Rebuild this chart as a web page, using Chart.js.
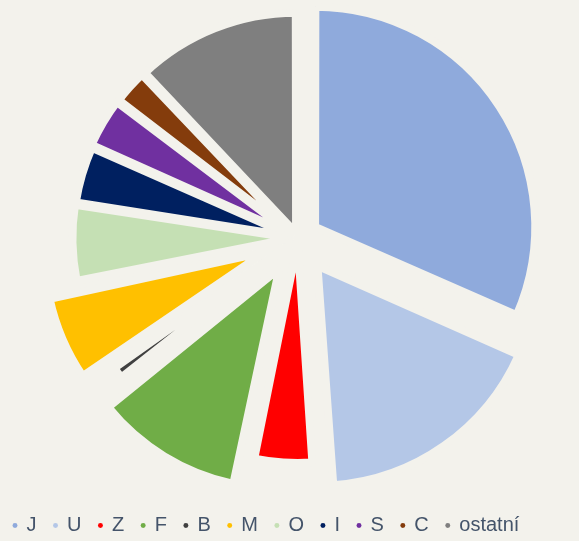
<!DOCTYPE html>
<html>
<head>
<meta charset="utf-8">
<script src="https://cdn.jsdelivr.net/npm/chart.js@4"></script>
<style>
  html, body { margin: 0; overflow: hidden; background: #f3f2ec; width: 579px; height: 541px; }
  canvas { position: absolute; left: -4px; top: -22px; }
</style>
</head>
<body>
<canvas id="pie" width="604" height="568"></canvas>
<script>
let labels = ['J', 'U', 'Z', 'F', 'B', 'M', 'O', 'I', 'S', 'C', 'ostatní'];
let shares = [31.6, 17.3, 4.3, 11.1, 0.95, 6.6, 5.6, 4.2, 3.7, 2.6, 12.05];
let colors = ['#8faadc', '#b4c7e7', '#ff0000', '#70ad47', '#404040', '#ffc000',
              '#c5e0b4', '#002060', '#7030a0', '#843c0c', '#7f7f7f'];
// how far each slice is pulled out
let explode = [82, 136, 20, 144, 20, 145, 22, 20, 26, 24, 22];

let bg = '#f3f2ec';
let textColor = '#44546a';
let pieRadius = 220;

Chart.defaults.font.family = '"Liberation Sans", Arial, sans-serif';

// chart.js grows the radius of small exploded slices; keep every slice the same size
let sameRadius = {
    id: 'sameRadius',
    afterDatasetsUpdate: function(chart) {
        chart.getDatasetMeta(0).data.forEach(function(arc, i) {
            let fix = 1 - Math.sin(Math.min(Math.PI, arc.circumference));
            arc.outerRadius = pieRadius - explode[i] / 4 * fix;
        });
    }
};

let ctx = document.getElementById('pie').getContext('2d');

let chart = new Chart(ctx, {
    type: 'pie',
    data: {
        labels: labels,
        datasets: [{
            data: shares,
            backgroundColor: colors,
            borderColor: bg,
            borderWidth: 7.8,
            offset: explode,
            radius: pieRadius
        }]
    },
    options: {
        responsive: false,
        animation: false,
        layout: {padding: {bottom: 0.5}},
        plugins: {
            tooltip: {enabled: false},
            legend: {
                position: 'bottom',
                align: 'start',
                labels: {
                    usePointStyle: true,
                    boxWidth: 3,
                    boxHeight: 3.5,
                    padding: 17.5,
                    color: textColor,
                    font: {size: 20},
                    generateLabels: function() {
                        return labels.map(function(t, i) {
                            return {
                                text: t,
                                fillStyle: colors[i],
                                strokeStyle: colors[i],
                                lineWidth: 0,
                                pointStyle: 'circle',
                                fontColor: textColor,
                                hidden: false,
                                index: i
                            };
                        });
                    }
                }
            }
        }
    },
    plugins: [sameRadius]
});
</script>
</body>
</html>
